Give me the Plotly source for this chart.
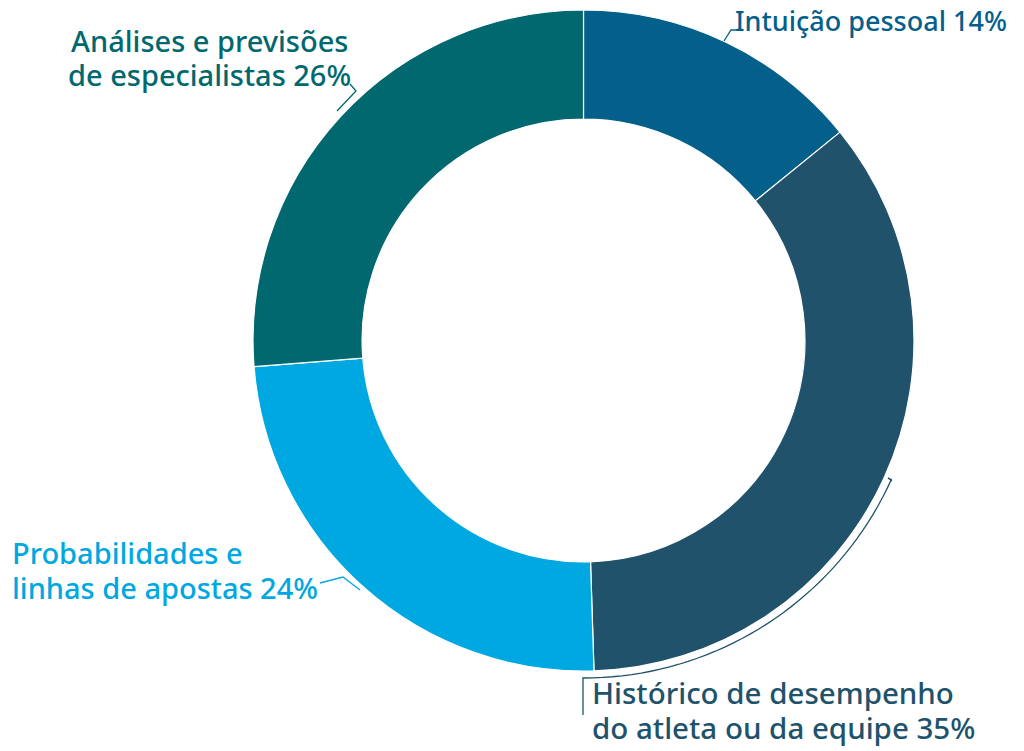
import math
import plotly.graph_objects as go

labels = ["Intuição pessoal", "Histórico de desempenho do atleta ou da equipe",
          "Probabilidades e linhas de apostas", "Análises e previsões de especialistas"]
values = [14, 35, 24, 26]
colors = ["#04608A", "#20536B", "#00A8E1", "#00686E"]
label_lines = [
    ["Intuição pessoal 14%"],
    ["Histórico de desempenho", "do atleta ou da equipe 35%"],
    ["Probabilidades e", "linhas de apostas 24%"],
    ["Análises e previsões", "de especialistas 26%"],
]

# page body has an 8px margin; figure sized to fit the window
OFF = 8
W, H = 1024 - OFF, 751 - OFF
FONT = "Noto Sans"

def px(x, y):
    """screen pixel (in the 1024x751 window) -> paper coords"""
    return (x - OFF) / W, 1 - (y - OFF) / H

x0, y1 = px(253, 10)
x1, y0 = px(914, 671)

fig = go.Figure(go.Pie(
    labels=labels, values=values, hole=0.67, sort=False, direction="clockwise",
    rotation=0, marker=dict(colors=colors, line=dict(color="white", width=1.2)),
    textinfo="none", hoverinfo="label+percent", showlegend=False,
    domain=dict(x=[x0, x1], y=[y0, y1]),
))

placements = [
    dict(x=733, ys=[20], xanchor="left", size=27),
    dict(x=590, ys=[692, 727], xanchor="left", size=29.5),
    dict(x=10, ys=[552, 587], xanchor="left", size=29),
    dict(x=209, ys=[40, 75], xanchor="center", size=29),
]
for lines, p, col in zip(label_lines, placements, colors):
    for line, yy in zip(lines, p["ys"]):
        x, y = px(p["x"], yy)
        fig.add_annotation(text=line, x=x, y=y, xref="paper", yref="paper",
                           xanchor=p["xanchor"], yanchor="middle", showarrow=False,
                           font=dict(family=FONT, size=p["size"], color=col, weight=500))

def path(points):
    s = ""
    for i, (x, y) in enumerate(points):
        u, v = px(x, y)
        s += ("M" if i == 0 else "L") + f"{u:.5f},{v:.5f} "
    return s

cx, cy, r = 583.5, 340, 338
arc = [(892, 481), (888, 478)]
for k in range(0, 41):
    ang = math.radians(114.4 + (180 - 114.4) * k / 40)
    arc.append((cx + r * math.sin(ang), cy - r * math.cos(ang)))
arc += [(583, 678), (583, 715)]
leaders = [
    ([(738, 30), (731, 30), (724, 41)], colors[0]),
    (arc, colors[1]),
    ([(320, 583), (343, 577), (360, 590)], colors[2]),
    ([(350, 84), (356, 91), (337, 111)], colors[3]),
]
for pts, col in leaders:
    fig.add_shape(type="path", path=path(pts), xref="paper", yref="paper",
                  line=dict(color=col, width=1.3))

fig.update_layout(width=W, height=H, margin=dict(l=0, r=0, t=0, b=0),
                  paper_bgcolor="white", plot_bgcolor="white")
fig.write_html("out.html")
